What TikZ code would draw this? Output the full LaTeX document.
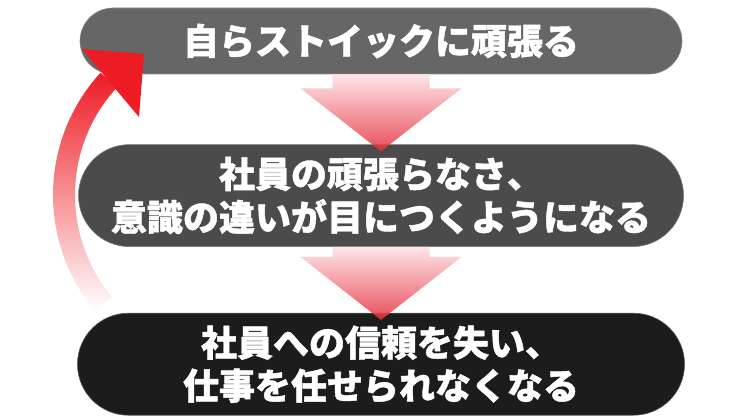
\documentclass[tikz,border=0pt]{standalone}
\usepackage{fontspec}
\newfontfamily\jpfont{Noto Sans CJK JP}[BoldFeatures={FakeBold=1.2}]
\usetikzlibrary{positioning, calc, shapes.misc}
\definecolor{boxtop}{HTML}{666666}
\definecolor{boxmid}{HTML}{4B4B4B}
\definecolor{boxlow}{HTML}{1C1C1C}
\definecolor{arrowred}{HTML}{ED1C24}
\definecolor{arrowpink}{HTML}{FCE1E4}
\definecolor{arrowdeep}{HTML}{E52F3C}

\tikzset{
	stepbox/.style={rounded rectangle, fill=#1, draw=#1!75!white, line width=0.6pt, text=white, align=center,
		font=\jpfont\bfseries\fontsize{36}{43}\selectfont, inner sep=0pt, minimum height=102pt},
	downarrow/.style={top color=arrowpink, bottom color=arrowdeep, fill opacity=0.85},
	loopshaft/.style={top color=arrowred, bottom color=white},
}

\begin{document}
\begin{tikzpicture}[x=1pt, y=-1pt]
	\useasboundingbox (0,0) rectangle (755,420);
	\pgfmathsetmacro{\shaftw}{48.5}
	\pgfmathsetmacro{\headw}{80.5}
	\pgfmathsetmacro{\headl}{63}
	
	% curved shaft behind the boxes
	\coordinate (loopc) at (234,195);
	\path[loopshaft] ($(loopc)+(140:181)$) arc[start angle=140, end angle=222.5, radius=181] -- ($(loopc)+(222.5:159)$) arc[start angle=222.5, end angle=140, radius=159] -- cycle;
	
	\node[stepbox=boxtop, minimum width=602pt, minimum height=66pt] (ownwork) at (381,41) {自らストイックに頑張る};
	\node[stepbox=boxmid, minimum width=605pt, below=70pt of ownwork] (notice) {社員の頑張らなさ、\\意識の違いが目につくようになる};
	\node[stepbox=boxlow, minimum width=607pt, below=66pt of notice] (distrust) {社員への信頼を失い、\\仕事を任せられなくなる};
	
	\path[downarrow] ($(ownwork.south)+(-\shaftw,0)$) -- ++(2*\shaftw,0) |- ($(notice.north)+(\headw,7-\headl)$) -- ($(notice.north)+(0,7)$) -- ++(-\headw,-\headl) -- ++(\headw-\shaftw,0) -- cycle;
	\path[downarrow] ($(notice.south)+(-\shaftw,0)$) -- ++(2*\shaftw,0) |- ($(distrust.north)+(\headw,7-\headl)$) -- ($(distrust.north)+(0,7)$) -- ++(-\headw,-\headl) -- ++(\headw-\shaftw,0) -- cycle;
	
	% head of the curved arrow, over the top box
	\coordinate (headtip) at (144,54);
	\path[fill=arrowred] (82,49) -- (headtip) -- (139,117) -- cycle;
\end{tikzpicture}
\end{document}
